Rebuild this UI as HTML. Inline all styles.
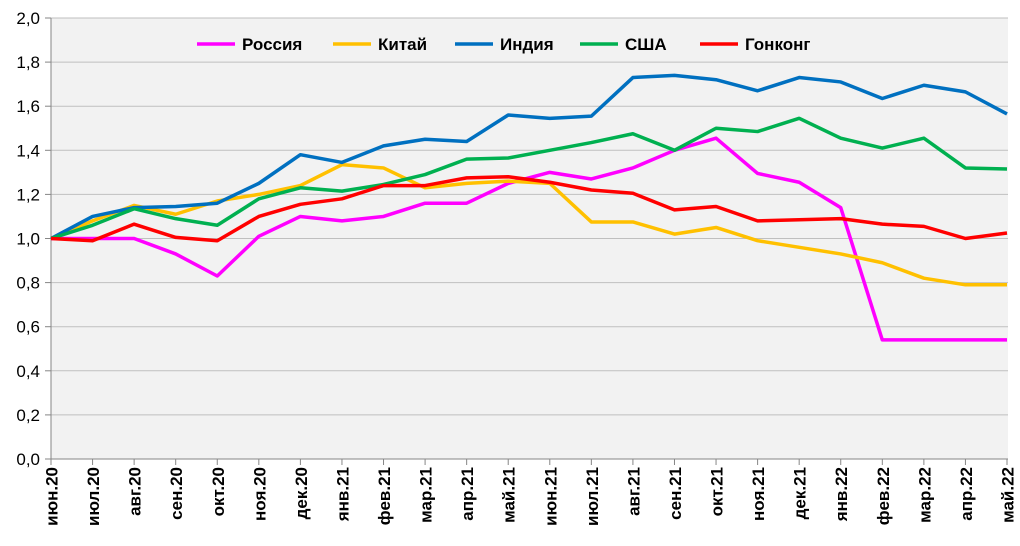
<!DOCTYPE html>
<html><head><meta charset="utf-8"><style>body{margin:0;background:#fff}svg{display:block;font-family:"Liberation Sans",sans-serif}</style></head>
<body>
<svg id="s" width="1020" height="546" xmlns="http://www.w3.org/2000/svg"></svg>
<script>
const s=document.getElementById('s');
const X0=51,X1=1007,Y0=459,K=220.5;
const xs=i=>X0+i*(X1-X0)/23, ys=v=>Y0-v*K;
let h='<rect x="51" y="18" width="957" height="441" fill="#f2f2f2"/>';
for(let i=0;i<=10;i++){const y=ys(i*0.2);
 if(i>0)h+=`<line x1="51" x2="1008" y1="${y}" y2="${y}" stroke="#bfbfbf" stroke-width="1"/>`;
 h+=`<line x1="45" x2="51" y1="${y}" y2="${y}" stroke="#868686"/>`;
 h+=`<text x="40" y="${y+6}" font-size="17" text-anchor="end" fill="#000">${(i*0.2).toFixed(1).replace('.',',')}</text>`;}
h+=`<line x1="51" x2="51" y1="18" y2="459" stroke="#868686"/><line x1="51" x2="1008" y1="459" y2="459" stroke="#868686"/>`;
const L=['июн.20','июл.20','авг.20','сен.20','окт.20','ноя.20','дек.20','янв.21','фев.21','мар.21','апр.21','май.21','июн.21','июл.21','авг.21','сен.21','окт.21','ноя.21','дек.21','янв.22','фев.22','мар.22','апр.22','май.22'];
L.forEach((t,i)=>{const x=xs(i);h+=`<line x1="${x}" x2="${x}" y1="459" y2="465" stroke="#868686"/>`;
 h+=`<text transform="translate(${x+6.5},467) rotate(-90)" font-size="17" font-weight="bold" text-anchor="end">${t}</text>`;});
const D=[
['#ff00ff',[1.0,1.0,1.0,0.93,0.83,1.01,1.1,1.08,1.1,1.16,1.16,1.25,1.3,1.27,1.32,1.4,1.455,1.295,1.255,1.14,0.54,0.54,0.54,0.54]],
['#ffc000',[1.0,1.08,1.15,1.11,1.17,1.2,1.24,1.335,1.32,1.23,1.25,1.26,1.25,1.075,1.075,1.02,1.05,0.99,0.96,0.93,0.89,0.82,0.79,0.79]],
['#0070c0',[1.0,1.1,1.14,1.145,1.16,1.25,1.38,1.345,1.42,1.45,1.44,1.56,1.545,1.555,1.73,1.74,1.72,1.67,1.73,1.71,1.635,1.695,1.665,1.565]],
['#00b050',[1.0,1.06,1.135,1.09,1.06,1.18,1.23,1.215,1.245,1.29,1.36,1.365,1.4,1.435,1.475,1.4,1.5,1.485,1.545,1.455,1.41,1.455,1.32,1.315]],
['#ff0000',[1.0,0.99,1.065,1.005,0.99,1.1,1.155,1.18,1.24,1.24,1.275,1.28,1.255,1.22,1.205,1.13,1.145,1.08,1.085,1.09,1.065,1.055,1.0,1.025]]];
D.forEach(([c,v])=>{h+=`<polyline fill="none" stroke="${c}" stroke-width="3.5" stroke-linejoin="round" points="${v.map((a,i)=>xs(i)+','+ys(a)).join(' ')}"/>`;});
const G=[['#ff00ff','Россия',197],['#ffc000','Китай',333],['#0070c0','Индия',455],['#00b050','США',580],['#ff0000','Гонконг',700]];
G.forEach(([c,t,x])=>{h+=`<line x1="${x}" x2="${x+38}" y1="44" y2="44" stroke="${c}" stroke-width="3.5"/><text x="${x+45}" y="50" font-size="17" font-weight="bold">${t}</text>`;});
s.innerHTML=h;
</script>
</body></html>
